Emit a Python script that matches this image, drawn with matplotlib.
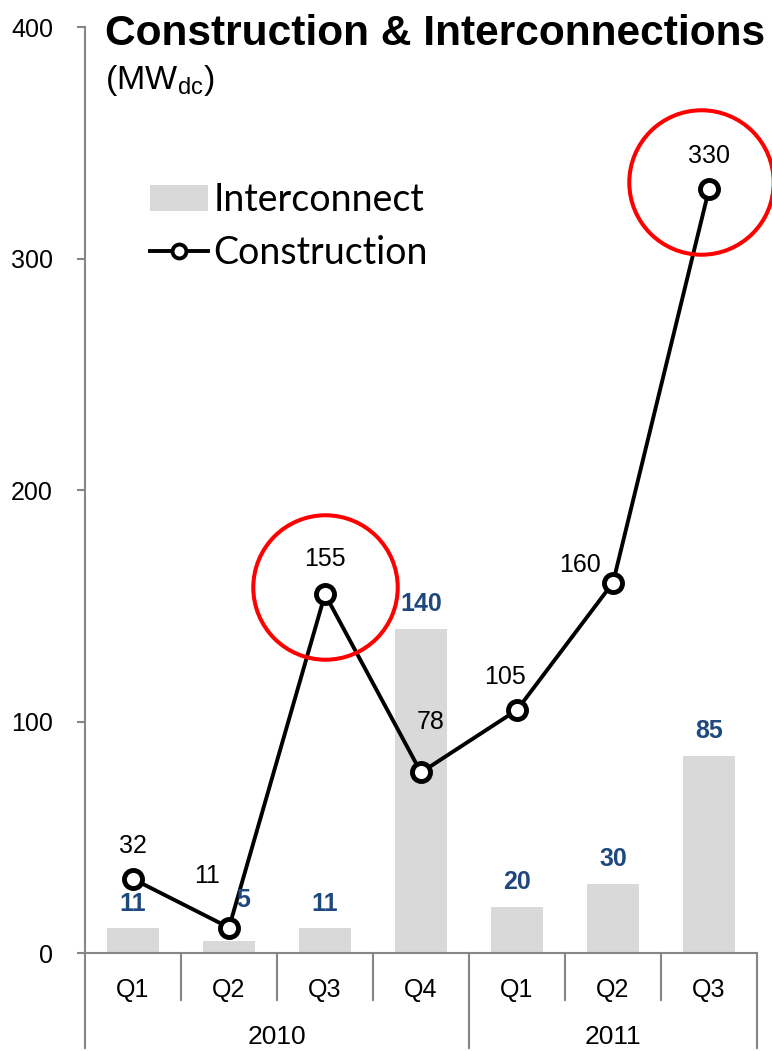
import matplotlib
matplotlib.use("Agg")
import matplotlib.pyplot as plt
from matplotlib.lines import Line2D
from matplotlib.patches import Patch
import matplotlib.transforms as mtransforms

quarters = ["Q1", "Q2", "Q3", "Q4", "Q1", "Q2", "Q3"]
years = ["2010", "2011"]
year_spans = [(0, 3), (4, 6)]
interconnect = [11, 5, 11, 140, 20, 30, 85]
construction = [32, 11, 155, 78, 105, 160, 330]
highlight_idx = [2, 6]

plt.rcParams["font.family"] = ["Liberation Sans", "DejaVu Sans"]

GRAY_AXIS = "#868686"
BAR_COLOR = "#d9d9d9"
BLUE = "#1f497d"

fig = plt.figure(figsize=(7.72, 10.51), dpi=100)
ax = fig.add_axes([0.1101, 0.0932, 0.8705, 0.8811])

x = list(range(len(quarters)))
ax.bar(x, interconnect, width=0.55, color=BAR_COLOR, zorder=1)
ax.plot(x, construction, color="black", lw=2.8, marker="o", ms=13,
        mfc="white", mec="black", mew=3.5, zorder=3)

# red highlight rings around the standout quarters (ring nudges in x, y)
ring_nudge = [(0.0, 3), (-0.08, 3)]
for i, (dx, dy) in zip(highlight_idx, ring_nudge):
    ax.plot([x[i] + dx], [construction[i] + dy], marker="o", ms=104,
            mfc="none", mec="#ff0000", mew=2.9, zorder=4, clip_on=False)

ax.set_xlim(-0.5, len(quarters) - 0.5)
ax.set_ylim(0, 400)
ax.set_yticks([0, 100, 200, 300, 400])
ax.tick_params(axis="y", direction="out", length=6, width=1.5,
               color=GRAY_AXIS, labelsize=18, pad=17)
ax.set_xticks([])
for s in ["top", "right"]:
    ax.spines[s].set_visible(False)
for s in ["left", "bottom"]:
    ax.spines[s].set_color(GRAY_AXIS)
    ax.spines[s].set_linewidth(1.5)

# construction value labels (offsets in points)
c_offsets = [(0, 24), (-16, 37), (0, 25), (7, 36), (-9, 24), (-24, 13), (0, 24)]
for xi, v, off in zip(x, construction, c_offsets):
    ax.annotate(str(v), (xi, v), xytext=off, textcoords="offset points",
                ha="center", va="center", fontsize=18, color="black", zorder=5)

# interconnect value labels
i_offsets = [(0, 17), (10, 30), (0, 17), (0, 18), (0, 18), (0, 18), (0, 18)]
for xi, v, off in zip(x, interconnect, i_offsets):
    ax.annotate(str(v), (xi, v), xytext=off, textcoords="offset points",
                ha="center", va="center", fontsize=18, fontweight="bold",
                color=BLUE, zorder=5)

# two-level category axis
trans = mtransforms.blended_transform_factory(ax.transData, ax.transAxes)
short_drop = -0.051
long_drop = -0.1025
year_bounds = {-0.5, 3.5, len(quarters) - 0.5}
for k in range(len(quarters) + 1):
    xb = k - 0.5
    y_end = long_drop if xb in year_bounds else short_drop
    ax.add_line(Line2D([xb, xb], [0, y_end], transform=trans, color=GRAY_AXIS,
                       lw=1.5, clip_on=False))
for xi, q in zip(x, quarters):
    ax.text(xi, -0.0395, q, transform=trans, ha="center", va="center",
            fontsize=18)
for (a, b), yr in zip(year_spans, years):
    ax.text((a + b) / 2, -0.0905, yr, transform=trans, ha="center",
            va="center", fontsize=19)

# title block
fig.text(0.136, 0.968, "Construction & Interconnections", fontsize=30.6,
         fontweight="bold", ha="left", va="center")
fig.text(0.136, 0.923, r"(MW$_{\mathregular{dc}}$)", fontsize=24.5,
         ha="left", va="center")

handles = [Patch(facecolor=BAR_COLOR, edgecolor="none"),
           Line2D([], [], color="black", lw=2.8, marker="o", ms=10,
                  mfc="white", mec="black", mew=2.8)]
ax.legend(handles, ["Interconnect", "Construction"], loc="upper left",
          bbox_to_anchor=(0.194, 0.8268), bbox_transform=fig.transFigure,
          frameon=False, prop={"family": "Lato", "size": 27},
          handlelength=1.55, handletextpad=0.14, labelspacing=0.45,
          borderaxespad=0, borderpad=0)

fig.savefig("out.png", dpi=100)
